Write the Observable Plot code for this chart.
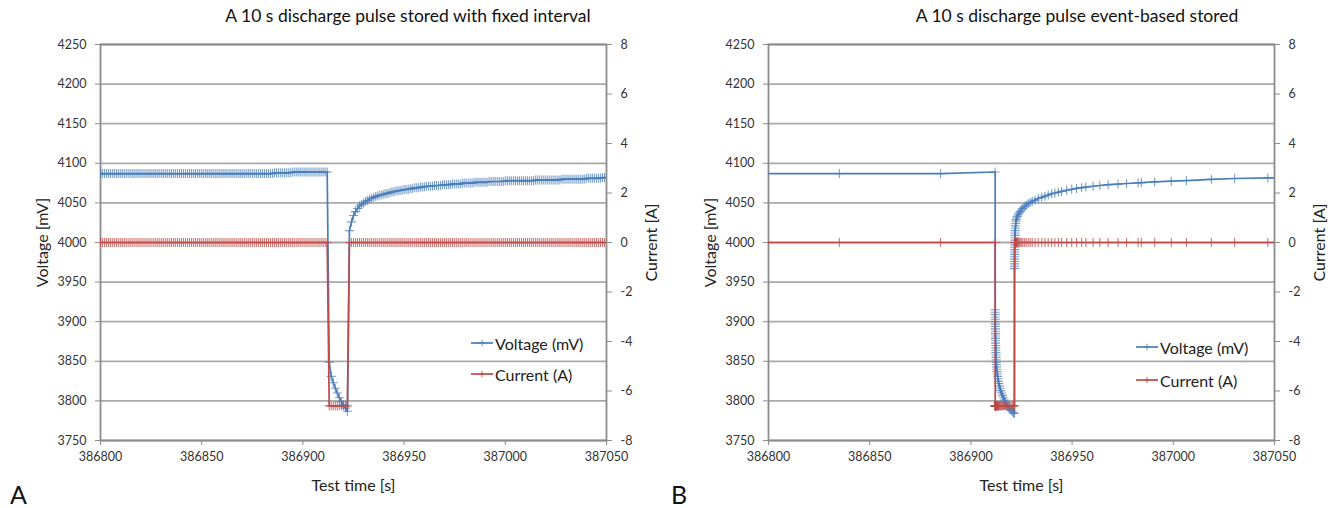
<!DOCTYPE html>
<html>
<head>
<meta charset="utf-8">
<script src="https://cdn.jsdelivr.net/npm/d3@7"></script>
<script src="https://cdn.jsdelivr.net/npm/@observablehq/plot@0.6"></script>
<style>
  html, body { margin: 0; padding: 0; background: #fff; }
  #page { position: relative; width: 1335px; height: 508px; overflow: hidden; font-family: Lato, "Open Sans", sans-serif; color: #222; }
  .panel { position: absolute; top: 0; width: 660px; height: 508px; }
  .panel svg { position: absolute; left: 0; top: 0; }
  .title { position: absolute; top: 5px; font-size: 17.5px; white-space: nowrap; transform: translateX(-50%); color: #111; }
  .letter { position: absolute; top: 479px; font-size: 25px; color: #111; }
  .legend { position: absolute; font-size: 16px; color: #222; }
  .legend div { position: absolute; left: 0; white-space: nowrap; display: flex; align-items: center; height: 20px; transform: translateY(-50%); }
  .legend svg { display: block; margin-right: 2px; }
</style>
</head>
<body>
<div id="page">
  <div class="title" style="left:408px">A 10 s discharge pulse stored with fixed interval</div>
  <div class="title" style="left:1077px">A 10 s discharge pulse event-based stored</div>
  <div id="panelA" class="panel" style="left:0px"></div>
  <div id="panelB" class="panel" style="left:668px"></div>
  <div class="letter" style="left:10px">A</div>
  <div class="letter" style="left:671px">B</div>
  <div class="legend" id="legendA" style="left:471px;top:343px"></div>
  <div class="legend" id="legendB" style="left:1136px;top:347px"></div>
</div>
<script>
// ---- axes ----
const timeDomain = [386800, 387050];
const timeTicks = [386800, 386850, 386900, 386950, 387000, 387050];
const voltageDomain = [3750, 4250];
const voltageTicks = [3750, 3800, 3850, 3900, 3950, 4000, 4050, 4100, 4150, 4200, 4250];
const currentDomain = [-8, 8];
const currentTicks = [-8, -6, -4, -2, 0, 2, 4, 6, 8];

const seriesNames = ["Voltage (mV)", "Current (A)"];

// ---- panel A: records logged every second from 386800 s ----
const aStart = 386800;
const aInterval = 1;
const aVoltage = [
  // 386800 – 386885
  4087, 4087, 4087, 4087, 4087, 4087, 4087, 4087, 4087, 4087,
  4087, 4087, 4087, 4087, 4087, 4087, 4087, 4087, 4087, 4087,
  4087, 4087, 4087, 4087, 4087, 4087, 4087, 4087, 4087, 4087,
  4087, 4087, 4087, 4087, 4087, 4087, 4087, 4087, 4087, 4087,
  4087, 4087, 4087, 4087, 4087, 4087, 4087, 4087, 4087, 4087,
  4087, 4087, 4087, 4087, 4087, 4087, 4087, 4087, 4087, 4087,
  4087, 4087, 4087, 4087, 4087, 4087, 4087, 4087, 4087, 4087,
  4087, 4087, 4087, 4087, 4087, 4087, 4087, 4087, 4087, 4087,
  4087, 4087, 4087, 4087, 4087, 4087,
  // 386886 – 386912
  4088, 4088, 4088, 4088, 4088, 4088, 4088, 4088, 4088,
  4089, 4089, 4089, 4089, 4089, 4089, 4089, 4089, 4089, 4089,
  4089, 4089, 4089, 4089, 4089, 4089, 4089, 4089,
  // 386913 – 386922 (pulse)
  3849, 3831, 3823, 3816, 3810, 3804, 3799, 3795, 3791, 3787,
  // 386923 – 386999
  4015, 4026, 4034, 4039, 4043, 4046, 4048, 4050, 4052, 4053,
  4055, 4056, 4057, 4058, 4059, 4060, 4060, 4061, 4062, 4062,
  4063, 4064, 4064, 4065, 4065, 4066, 4066, 4067, 4067, 4067,
  4068, 4068, 4069, 4069, 4069, 4070, 4070, 4070, 4071, 4071,
  4071, 4071, 4072, 4072, 4072, 4072, 4073, 4073, 4073, 4073,
  4073, 4074, 4074, 4074, 4074, 4074, 4075, 4075, 4075, 4075,
  4075, 4075, 4076, 4076, 4076, 4076, 4076, 4076, 4076, 4077,
  4077, 4077, 4077, 4077, 4077, 4077, 4077,
  // 387000 – 387050
  4078, 4078, 4078, 4078, 4078, 4078, 4078, 4078, 4078, 4078,
  4078, 4078, 4078, 4078, 4078, 4079, 4079, 4079, 4079, 4079,
  4079, 4079, 4079, 4079, 4079, 4079, 4079, 4079, 4080, 4080,
  4080, 4080, 4080, 4080, 4080, 4080, 4080, 4080, 4080, 4080,
  4081, 4081, 4081, 4081, 4081, 4081, 4081, 4081, 4082, 4082,
  4082
];
const aCurrent = [
  // 386800 – 386912
  0, 0, 0, 0, 0, 0, 0, 0, 0, 0,  0, 0, 0, 0, 0, 0, 0, 0, 0, 0,
  0, 0, 0, 0, 0, 0, 0, 0, 0, 0,  0, 0, 0, 0, 0, 0, 0, 0, 0, 0,
  0, 0, 0, 0, 0, 0, 0, 0, 0, 0,  0, 0, 0, 0, 0, 0, 0, 0, 0, 0,
  0, 0, 0, 0, 0, 0, 0, 0, 0, 0,  0, 0, 0, 0, 0, 0, 0, 0, 0, 0,
  0, 0, 0, 0, 0, 0, 0, 0, 0, 0,  0, 0, 0, 0, 0, 0, 0, 0, 0, 0,
  0, 0, 0, 0, 0, 0, 0, 0, 0, 0,  0, 0, 0,
  // 386913 – 386922 (pulse)
  -6.6, -6.6, -6.6, -6.6, -6.6, -6.6, -6.6, -6.6, -6.6, -6.6,
  // 386923 – 387050
  0, 0, 0, 0, 0, 0, 0, 0, 0, 0,  0, 0, 0, 0, 0, 0, 0, 0, 0, 0,
  0, 0, 0, 0, 0, 0, 0, 0, 0, 0,  0, 0, 0, 0, 0, 0, 0, 0, 0, 0,
  0, 0, 0, 0, 0, 0, 0, 0, 0, 0,  0, 0, 0, 0, 0, 0, 0, 0, 0, 0,
  0, 0, 0, 0, 0, 0, 0, 0, 0, 0,  0, 0, 0, 0, 0, 0, 0, 0, 0, 0,
  0, 0, 0, 0, 0, 0, 0, 0, 0, 0,  0, 0, 0, 0, 0, 0, 0, 0, 0, 0,
  0, 0, 0, 0, 0, 0, 0, 0, 0, 0,  0, 0, 0, 0, 0, 0, 0, 0, 0, 0,
  0, 0, 0, 0, 0, 0, 0, 0
];

// ---- panel B: records written on events ----
const bTime = [
  386785, 386835, 386885, 386912,
  386912.02, 386912.03, 386912.04, 386912.05, 386912.06, 386912.07, 386912.08, 386912.09, 386912.10, 386912.12,
  386912.14, 386912.16, 386912.18, 386912.20, 386912.23, 386912.26, 386912.29, 386912.32, 386912.36, 386912.40,
  386912.45, 386912.50, 386912.56, 386912.63, 386912.71, 386912.80, 386912.92, 386913.05, 386913.20, 386913.38,
  386913.58, 386913.80, 386914.05, 386914.35, 386914.70, 386915.10, 386915.60, 386916.10, 386916.60, 386917.20,
  386917.80, 386918.40, 386919.10, 386919.80, 386920.50, 386921.10, 386921.50,
  386921.55, 386921.56, 386921.57, 386921.58, 386921.59, 386921.60, 386921.61, 386921.62, 386921.64, 386921.66,
  386921.68, 386921.70, 386921.73, 386921.76, 386921.80, 386921.85, 386921.91, 386921.98, 386922.06, 386922.16,
  386922.28, 386922.44, 386922.64, 386922.90, 386923.30, 386923.80, 386924.30, 386924.90, 386925.60, 386926.40,
  386927.30, 386928.30, 386929.30, 386930.30,
  386931.7, 386933.3, 386935.0, 386936.6, 386938.2, 386939.9, 386941.5, 386943.2, 386944.8, 386947.3,
  386949.8, 386952.2, 386954.7, 386956.8, 386960.4, 386963.7, 386967.8, 386972.7, 386976.9, 386982.6,
  386984.2, 386990.8, 386999.0, 387006.5, 387018.8, 387030.3, 387046.7, 387060
];
const bVoltage = [
  4087, 4087, 4087, 4089,
  3915, 3912, 3909, 3906, 3903, 3900, 3897, 3894, 3891, 3888,
  3885, 3882, 3879, 3876, 3873, 3870, 3867, 3864, 3861, 3858,
  3855, 3852, 3849, 3846, 3843, 3840, 3837, 3834, 3831, 3828,
  3825, 3822, 3819, 3816, 3813, 3810, 3807, 3804, 3801, 3798,
  3795, 3792, 3790, 3788, 3786, 3785, 3784,
  3967, 3970, 3973, 3976, 3979, 3982, 3985, 3988, 3991, 3994,
  3997, 4000, 4003, 4006, 4009, 4012, 4015, 4018, 4021, 4024,
  4027, 4029, 4031, 4033, 4035, 4037, 4039, 4041, 4043, 4045,
  4047, 4049, 4050.5, 4052,
  4053.5, 4055.5, 4057, 4058.5, 4060, 4061.5, 4062.5, 4063.5, 4064.5, 4066,
  4067.2, 4068.3, 4069.3, 4070, 4071, 4072, 4073, 4073.8, 4074.5, 4075.3,
  4075.6, 4076.5, 4077.4, 4078.2, 4079.8, 4080.8, 4081.6, 4082
];
const bCurrent = [
  0, 0, 0, 0,
  -6.6, -6.6, -6.6, -6.6, -6.6, -6.6, -6.6, -6.6, -6.6, -6.6,
  -6.6, -6.6, -6.6, -6.6, -6.6, -6.6, -6.6, -6.6, -6.6, -6.6,
  -6.6, -6.6, -6.6, -6.6, -6.6, -6.6, -6.6, -6.6, -6.6, -6.6,
  -6.6, -6.6, -6.6, -6.6, -6.6, -6.6, -6.6, -6.6, -6.6, -6.6,
  -6.6, -6.6, -6.6, -6.6, -6.6, -6.6, -6.6,
  0, 0, 0, 0, 0, 0, 0, 0, 0, 0,
  0, 0, 0, 0, 0, 0, 0, 0, 0, 0,
  0, 0, 0, 0, 0, 0, 0, 0, 0, 0,
  0, 0, 0, 0,
  0, 0, 0, 0, 0, 0, 0, 0, 0, 0,
  0, 0, 0, 0, 0, 0, 0, 0, 0, 0,
  0, 0, 0, 0, 0, 0, 0, 0
];

// ---- drawing ----
const blue = "#4a7ebb";
const red = "#be4b48";
const gridColor = "#a9a9a9";
const axisColor = "#8c8c8c";

// the current axis (right) shares the vertical scale with the voltage axis
const currentToVoltage = d3.scaleLinear().domain(currentDomain).range(voltageDomain);

function drawPanel(time, voltage, current) {
  const rows = time.map((t, k) => ({t, v: voltage[k], c: currentToVoltage(current[k])}));
  return Plot.plot({
    width: 660,
    height: 508,
    marginTop: 44,
    marginBottom: 68,
    marginLeft: 100,
    marginRight: 54,
    style: {fontFamily: "Lato, 'Open Sans', sans-serif", fontSize: "12.5px", color: "#333", background: "transparent", overflow: "visible"},
    x: {domain: timeDomain},
    y: {domain: voltageDomain},
    marks: [
      Plot.gridY(voltageTicks, {stroke: gridColor, strokeOpacity: 1, strokeWidth: 1.8}),
      Plot.frame({stroke: axisColor, strokeWidth: 1.8}),
      Plot.axisY(voltageTicks, {anchor: "left", tickSize: 5, tickPadding: 9, stroke: axisColor, label: null, tickFormat: d3.format("d")}),
      Plot.axisY(currentTicks.map(currentToVoltage), {
        anchor: "right", tickSize: 5, tickPadding: 9, stroke: axisColor, label: null,
        tickFormat: v => String(Math.round(currentToVoltage.invert(v)))
      }),
      Plot.axisX(timeTicks, {anchor: "bottom", tickSize: 5, tickPadding: 7, stroke: axisColor, label: null, tickFormat: d3.format("d")}),
      Plot.axisY([], {anchor: "left", label: "Voltage [mV]", labelAnchor: "center", labelArrow: "none", labelOffset: 64, fontSize: 16, fill: "#222"}),
      Plot.axisY([], {anchor: "right", label: "Current [A]", labelAnchor: "center", labelArrow: "none", labelOffset: 50, fontSize: 16, fill: "#222"}),
      Plot.axisX([], {anchor: "bottom", label: "Test time [s]", labelAnchor: "center", labelArrow: "none", labelOffset: 50, fontSize: 16, fill: "#222"}),
      Plot.line(rows, {x: "t", y: "v", stroke: blue, strokeWidth: 1.7, clip: true}),
      Plot.dot(rows, {x: "t", y: "v", symbol: "plus", r: 3, stroke: blue, strokeWidth: 1.1, strokeOpacity: 0.75, clip: true}),
      Plot.line(rows, {x: "t", y: "c", stroke: red, strokeWidth: 1.7, clip: true}),
      Plot.dot(rows, {x: "t", y: "c", symbol: "plus", r: 3, stroke: red, strokeWidth: 1.1, strokeOpacity: 0.75, clip: true})
    ]
  });
}

const aTime = aVoltage.map((_, k) => aStart + k * aInterval);
document.getElementById("panelA").append(drawPanel(aTime, aVoltage, aCurrent));
document.getElementById("panelB").append(drawPanel(bTime, bVoltage, bCurrent));

// legends: a line with a plus marker next to each series name
function drawLegend(el, gap) {
  [blue, red].forEach((color, k) => {
    const item = document.createElement("div");
    item.style.top = (k * gap) + "px";
    item.innerHTML =
      `<svg width="22" height="10"><line x1="0" x2="22" y1="5" y2="5" stroke="${color}" stroke-width="1.7"/>` +
      `<path d="M11,1.8V8.2M7.8,5H14.2" stroke="${color}" stroke-width="1.1" stroke-opacity="0.8"/></svg>` +
      `<span>${seriesNames[k]}</span>`;
    el.append(item);
  });
}
drawLegend(document.getElementById("legendA"), 31);
drawLegend(document.getElementById("legendB"), 33);
</script>
</body>
</html>
